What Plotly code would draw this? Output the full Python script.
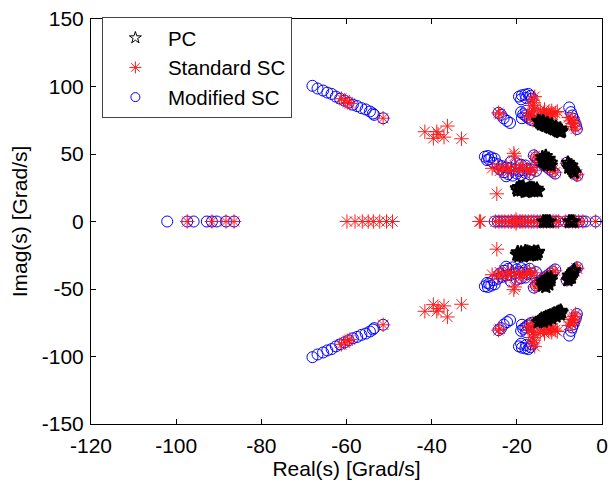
import plotly.graph_objects as go

# ---------------- data (pole locations, Grad/s) ----------------
# Complex poles come in conjugate pairs: only the upper-half (imag > 0) values are
# listed; the lower half is their conjugate.  Real poles are listed separately.

# PC (black stars)
pc_re_upper = [-15.0, -14.5, -14.0, -13.5, -13.0, -12.5, -12.0, -11.5, -11.0, -10.5, -10.0, -9.5,
               -14.2, -13.2, -12.2, -11.2, -10.2, -13.8, -12.8, -11.8, -10.8, -9.8,
               -14.6, -13.6, -12.6, -11.6, -10.6, -9.7,
               -14.0, -13.5, -13.0, -12.5, -12.0, -13.5, -13.0, -12.5, -14.0, -12.0, -13.2, -12.8,
               -8.0, -7.7, -7.4, -7.1, -6.8, -6.5, -7.8, -7.2,
               -20.0, -19.5, -19.0, -18.5, -18.0, -17.5, -17.0, -16.5, -16.0, -15.5, -15.0,
               -19.0, -18.0, -17.0, -16.0, -19.8, -15.3, -18.5, -17.5, -16.5]
pc_im_upper = [74.5, 73.8, 73.0, 72.5, 71.8, 71.2, 70.5, 69.8, 69.0, 68.4, 67.8, 67.2,
               72.0, 70.8, 69.6, 68.2, 66.8, 74.2, 73.0, 71.8, 70.2, 68.8,
               73.2, 71.6, 70.3, 69.0, 67.6, 66.2,
               47.5, 46.5, 45.5, 44.5, 43.5, 44.0, 43.0, 46.5, 45.0, 41.5, 48.5, 42.0,
               43.5, 42.0, 40.5, 39.0, 37.5, 36.2, 40.0, 41.5,
               24.5, 25.5, 25.0, 24.0, 23.5, 24.0, 23.0, 23.5, 22.5, 23.0, 22.5,
               23.0, 22.0, 25.0, 24.5, 22.8, 24.3, 25.8, 22.4, 24.8]
pc_re_real = [-13.8, -13.3, -12.8, -12.3, -7.7, -7.2, -6.7]

# Standard SC (red asterisks)
ssc_re_upper = [-61.2, -60.4, -59.7, -59.2, -51.4,
                -41.6, -38.8, -39.6, -37.1, -36.3, -33.0, -38.5,
                -24.7,
                -15.8, -16.2, -16.0, -16.3, -15.9, -16.1, -16.4, -16.0, -16.2, -17.5, -17.0,
                -14.5, -13.8, -13.0, -12.5, -12.0, -11.5, -11.0, -10.5, -13.5, -12.0, -11.8,
                -24.3, -24.0,
                -7.8, -7.4, -7.0, -6.6, -6.2, -7.0, -6.5,
                -20.7, -20.5,
                -25.8, -24.5, -23.5, -22.5, -21.5, -20.5, -19.5, -18.5, -17.5, -16.5, -15.8,
                -22.0, -19.0, -24.0, -17.0,
                -15.8, -15.2, -14.6, -14.0, -13.4, -12.8, -12.2, -11.6, -11.0,
                -8.2, -7.6, -7.0, -6.4, -5.8, -6.0,
                -20.2]
ssc_im_upper = [91.0, 89.8, 88.2, 87.5, 76.5,
                66.5, 66.5, 61.6, 62.5, 70.7, 61.3, 64.5,
                20.5,
                92.5, 90.0, 88.0, 86.0, 84.0, 82.0, 79.0, 77.0, 75.0, 78.0, 80.5,
                82.0, 80.5, 79.5, 81.0, 80.0, 79.0, 80.5, 81.5, 83.0, 78.0, 82.0,
                80.5, 79.5,
                77.0, 74.5, 72.5, 70.5, 68.5, 76.0, 73.5,
                50.5, 48.5,
                39.4, 40.5, 39.0, 41.0, 38.5, 40.0, 38.0, 39.5, 38.5, 40.0, 38.0,
                37.0, 41.5, 37.5, 36.5,
                48.5, 47.0, 45.5, 44.0, 42.5, 41.0, 39.5, 38.0, 36.5,
                43.0, 41.0, 39.0, 37.0, 35.0, 34.5,
                1.5]
ssc_re_real = [-97.4, -91.6, -88.3, -86.4,
               -59.9, -58.0, -56.3, -54.9, -53.7, -52.2, -50.6, -49.2,
               -28.8, -28.5,
               -25.0, -24.2, -23.5, -22.8, -22.0, -21.3, -20.6, -20.0, -19.3, -18.6, -18.0,
               -17.3, -16.6, -16.0, -15.2, -14.5, -13.8, -13.0, -12.2, -11.5, -10.8, -10.2,
               -8.5, -7.8, -7.0, -6.2, -5.5, -4.5, -1.5]

# Modified SC (blue circles)
msc_re_upper = [-68.0, -66.8, -65.5, -64.5, -63.5, -62.5, -61.5, -60.5, -59.5, -58.5, -57.5,
                -56.5, -55.5, -54.5, -53.8, -53.5, -51.4,
                -19.5, -18.8, -18.0, -17.3, -16.8, -16.5, -19.0, -17.8,
                -19.0, -18.5, -18.0, -17.5, -17.0, -16.5, -18.8, -17.8, -16.0, -15.5,
                -24.3, -23.7, -23.1, -22.3, -21.6,
                -7.7, -7.3, -7.0, -6.7, -6.4, -6.1, -5.9,
                -27.5, -26.8, -26.0, -25.2, -26.5, -27.0,
                -25.5, -24.5, -23.5, -22.5, -21.5, -20.5, -19.5, -18.5, -17.5, -16.5, -15.5,
                -24.0, -23.0, -22.0, -21.0, -20.0, -19.0, -18.0, -17.0, -21.5, -20.0, -19.0,
                -18.0, -22.5,
                -16.0, -15.5, -15.0, -14.5, -14.0, -13.5, -12.8, -12.2, -11.6, -11.0,
                -8.3, -7.8, -7.3, -6.8, -6.3, -5.8]
msc_im_upper = [100.5, 98.5, 97.0, 95.5, 94.5, 92.5, 91.0, 89.5, 88.0, 86.5, 85.5,
                84.0, 83.0, 81.5, 80.0, 79.0, 76.5,
                92.5, 93.5, 94.0, 94.5, 93.0, 91.0, 90.5, 91.5,
                81.0, 79.5, 78.5, 77.0, 76.0, 75.0, 76.5, 82.0, 78.5, 80.0,
                80.5, 79.0, 76.4, 74.5, 73.0,
                84.5, 81.0, 78.5, 76.0, 73.5, 71.0, 68.5,
                48.0, 48.5, 47.5, 46.5, 46.0, 45.5,
                43.5, 42.5, 41.0, 40.0, 39.5, 38.5, 37.5, 38.0, 39.0, 38.5, 37.5,
                38.5, 36.5, 35.0, 34.0, 35.5, 34.5, 36.0, 35.0, 44.0, 43.0, 42.0,
                41.5, 33.5,
                49.0, 47.5, 46.0, 44.5, 43.0, 41.5, 40.0, 38.5, 37.0, 35.5,
                43.5, 41.5, 39.5, 37.5, 35.5, 34.0]
msc_re_real = [-102.1, -97.4, -95.9, -92.8, -91.6, -90.5, -88.3, -86.4,
               -25.2, -24.5, -23.8, -23.0, -22.3, -21.5, -20.8, -20.0, -19.2, -18.5, -17.8,
               -17.0, -16.3, -15.5, -14.8, -14.0, -13.2, -12.5, -11.8, -11.0, -10.3,
               -8.6, -7.8, -7.0, -6.2, -5.4, -4.6, -3.9, -1.5]

x_ticks = [-120, -100, -80, -60, -40, -20, 0]
y_ticks = [-150, -100, -50, 0, 50, 100, 150]


def poles(re_up, im_up, re_real):
    xs = list(re_up) + list(re_up) + list(re_real)
    ys = list(im_up) + [-v for v in im_up] + [0.0] * len(re_real)
    return xs, ys


pc_x, pc_y = poles(pc_re_upper, pc_im_upper, pc_re_real)
ssc_x, ssc_y = poles(ssc_re_upper, ssc_im_upper, ssc_re_real)
msc_x, msc_y = poles(msc_re_upper, msc_im_upper, msc_re_real)

FONT = "Liberation Sans, Arial, Helvetica, sans-serif"

fig = go.Figure()
# data traces (legend shown through thin, small proxy entries below)
fig.add_trace(go.Scatter(
    x=msc_x, y=msc_y, mode="markers", name="Modified SC", showlegend=False,
    marker=dict(symbol="circle-open", size=11, color="#0000ff", line=dict(width=1))))
fig.add_trace(go.Scatter(
    x=ssc_x, y=ssc_y, mode="markers", name="Standard SC", showlegend=False,
    marker=dict(symbol="asterisk-open", size=12, color="#ff1a1a", line=dict(width=1))))
fig.add_trace(go.Scatter(
    x=pc_x, y=pc_y, mode="markers", name="PC", showlegend=False,
    marker=dict(symbol="star-open", size=10, color="#000000", line=dict(width=1.8))))

# legend entries
fig.add_trace(go.Scatter(
    x=[None], y=[None], mode="markers", name="PC", legendrank=1,
    marker=dict(symbol="star-open", size=9, color="#000000", line=dict(width=1))))
fig.add_trace(go.Scatter(
    x=[None], y=[None], mode="markers", name="Standard SC", legendrank=2,
    marker=dict(symbol="asterisk-open", size=10, color="#ff1a1a", line=dict(width=1))))
fig.add_trace(go.Scatter(
    x=[None], y=[None], mode="markers", name="Modified SC", legendrank=3,
    marker=dict(symbol="circle-open", size=9, color="#0000ff", line=dict(width=1))))

axis_common = dict(
    showline=True, linecolor="black", linewidth=1, mirror="ticks",
    ticks="inside", ticklen=5, tickcolor="black", tickwidth=1,
    showgrid=False, zeroline=False,
    tickfont=dict(family=FONT, size=21, color="black"),
    title_font=dict(family=FONT, size=21, color="black"),
)

fig.update_xaxes(range=[-120, 0], tickmode="array", tickvals=x_ticks,
                 ticktext=[str(v) for v in x_ticks],
                 title_text="Real(s) [Grad/s]", title_standoff=4, ticklabelstandoff=3,
                 **axis_common)
fig.update_yaxes(range=[-150, 150], tickmode="array", tickvals=y_ticks,
                 ticktext=[str(v) for v in y_ticks],
                 title_text="Imag(s) [Grad/s]", title_standoff=8, ticklabelstandoff=2,
                 **axis_common)

fig.update_layout(
    width=614, height=484,
    margin=dict(l=91, r=6, t=19, b=60),
    paper_bgcolor="white", plot_bgcolor="white",
    font=dict(family=FONT, size=21, color="black"),
    legend=dict(x=0.0213, y=1.005, xanchor="left", yanchor="top",
                bgcolor="white", bordercolor="#444444", borderwidth=1,
                font=dict(family=FONT, size=20.5, color="black"),
                tracegroupgap=0, itemwidth=55),
    showlegend=True,
)

fig.write_html("out.html")
